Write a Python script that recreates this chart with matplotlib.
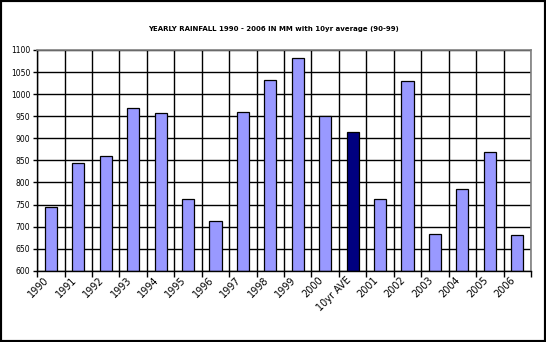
import numpy as np
import matplotlib.pyplot as plt
from matplotlib.patches import Rectangle
import matplotlib.transforms as mtrans

# yearly rainfall (mm), 10yr average inserted after 2000
labels = ['1990', '1991', '1992', '1993', '1994', '1995', '1996', '1997', '1998',
          '1999', '2000', '10yr AVE', '2001', '2002', '2003', '2004', '2005', '2006']
rain = [744, 844, 860, 969, 958, 762, 713, 960, 1032,
        1082, 950, 914, 762, 1030, 683, 785, 869, 681]
avg_label = '10yr AVE'

fig = plt.figure(figsize=(5.46, 3.42), dpi=100)
ax = fig.add_axes([0.068, 0.208, 0.9045, 0.646])

x = np.arange(len(labels))
colors = ['#000080' if l == avg_label else '#9999ff' for l in labels]
ax.bar(x, [r - 600 for r in rain], bottom=600, width=0.44, color=colors,
       edgecolor='black', linewidth=0.9, zorder=3)

ax.set_xlim(-0.5, len(labels) - 0.5)
ax.set_ylim(600, 1100)
ax.set_yticks(np.arange(600, 1101, 50))
ax.set_yticklabels([str(v) for v in range(600, 1101, 50)], fontsize=5.5)

# gridlines at category boundaries
ax.set_xticks(np.arange(-0.5, len(labels)))
ax.set_xticklabels([])
ax.grid(True, color='black', linewidth=1.0, zorder=1)
ax.tick_params(axis='x', length=4, width=1, color='black')
ax.tick_params(axis='y', length=3, width=1, pad=2)

offset = mtrans.ScaledTranslation(-7 / 100, -4 / 100, fig.dpi_scale_trans)
for xi, lab in zip(x, labels):
    ax.text(xi, 0, lab, transform=ax.get_xaxis_transform() + offset,
            rotation=45, ha='right', va='top', rotation_mode='anchor',
            fontsize=7)

for side in ['top', 'right']:
    ax.spines[side].set_color('#808080')
    ax.spines[side].set_linewidth(1.2)
    ax.spines[side].set_zorder(5)
for side in ['left', 'bottom']:
    ax.spines[side].set_color('black')
    ax.spines[side].set_linewidth(1.0)
    ax.spines[side].set_zorder(5)

fig.suptitle('YEARLY RAINFALL 1990 - 2006 IN MM with 10yr average (90-99)',
             y=0.925, fontsize=5, fontweight='bold')

fig.patches.append(Rectangle((0, 0), 1, 1, transform=fig.transFigure,
                             fill=False, edgecolor='black', linewidth=3))

fig.savefig('out.png', dpi=100)
